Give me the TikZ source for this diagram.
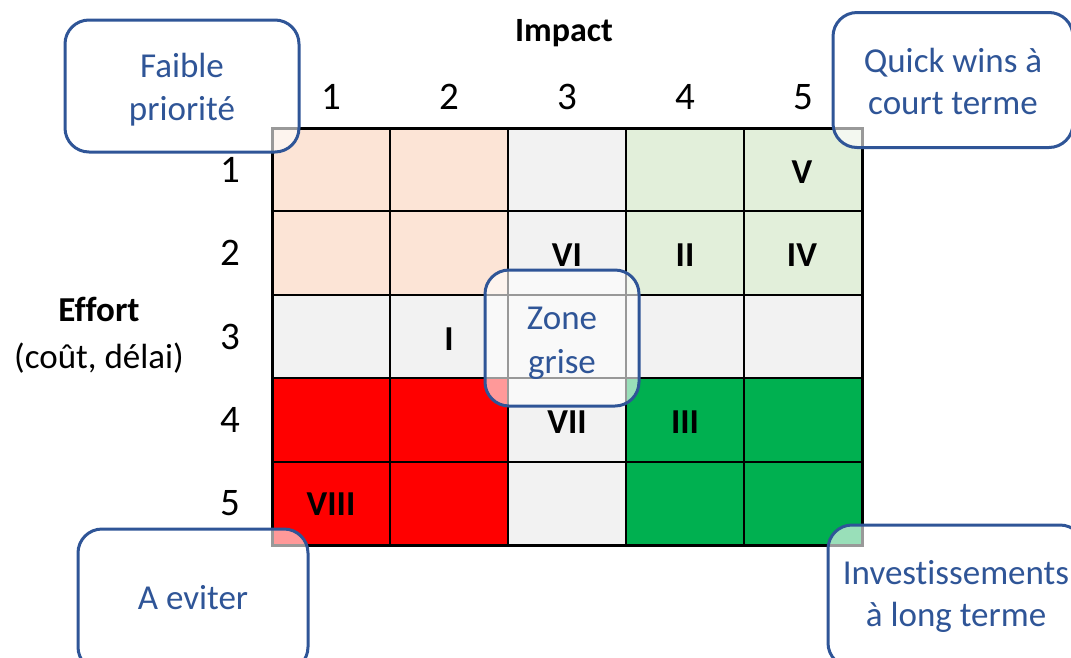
\documentclass[tikz,border=0pt]{standalone}
\usepackage{fontspec}
\setmainfont{Carlito}[Ligatures=NoCommon]
\usepackage{tikz}
\usetikzlibrary{positioning, calc}

\definecolor{peche}{HTML}{FCE4D6}
\definecolor{grisclair}{HTML}{F2F2F2}
\definecolor{vertpale}{HTML}{E2EFDA}
\definecolor{rouge}{HTML}{FF0000}
\definecolor{vertfonce}{HTML}{00B050}
\definecolor{bleubord}{HTML}{2F5597}

\tikzset{
  case/.style={draw=black, line width=2pt},
  bulle/.style={draw=bleubord, line width=3pt, rounded corners=24pt, fill=white,
    fill opacity=0.6, inner sep=0pt},
  bultexte/.style={text=bleubord, align=center, inner sep=0pt,
    font=\fontsize{35}{42}\selectfont},
  chiffre/.style={font=\fontsize{39}{44}\selectfont},
  romain/.style={font=\fontsize{35}{40}\selectfont\bfseries},
  axe/.style={font=\fontsize{35}{47}\selectfont, align=center}
}

\begin{document}
\begin{tikzpicture}[x=1pt, y=-1pt]
        \useasboundingbox (0,0) rectangle (1071,657);
        \clip (0,0) rectangle (1071,657);

        % Matrice 5x5 (lignes = effort, colonnes = impact)
        \foreach \ligne [count=\r] in {
            {peche,peche,grisclair,vertpale,vertpale},
            {peche,peche,grisclair,vertpale,vertpale},
            {grisclair,grisclair,grisclair,grisclair,grisclair},
            {rouge,rouge,grisclair,vertfonce,vertfonce},
            {rouge,rouge,grisclair,vertfonce,vertfonce}} {
            \foreach \coul [count=\c] in \ligne {
                \filldraw[case, fill=\coul] ({272+118*(\c-1)}, {128+83.4*(\r-1)})
                    rectangle ({272+118*\c}, {128+83.4*\r});
            }
        }
        \draw[line width=3pt] (272,128) rectangle (862,545);

        % Graduations
        \foreach \n in {1,...,5} {
            \node[chiffre] (col\n) at ({272+118*(\n-0.5)}, 97) {\n};
            \node[chiffre] (lig\n) at (230, {128+83.4*(\n-0.5)}) {\n};
        }

        % Titres des axes
        \node[axe, font=\fontsize{34}{46}\selectfont\bfseries] (impact) at (564,33) {Impact};
        \node[axe] (effort) at (99,335) {\textbf{Effort}\\(coût, délai)};

        % Numeros des actions
        \node[romain] (a5) at (802,172) {V};
        \node[romain] (a6) at (567,255) {VI};
        \node[romain] (a2) at (685,255) {II};
        \node[romain] (a4) at (802,255) {IV};
        \node[romain] (a1) at (449,339) {I};
        \node[romain] (a7) at (567,422) {VII};
        \node[romain] (a3) at (685,422) {III};
        \node[romain] (a8) at (331,504) {VIII};

        % Bulles des zones
        \node[bulle, minimum width=234pt, minimum height=132pt] (faible) at (182,86) {};
        \node[bulle, minimum width=240pt, minimum height=135pt] (quick) at (953,80) {};
        \node[bulle, minimum width=154pt, minimum height=136pt] (grise) at (562,338) {};
        \node[bulle, minimum width=230pt, minimum height=142pt] (eviter) at (193,600) {};
        \node[bulle, minimum width=256pt, minimum height=142pt] (invest) at (956,596) {};

        \node[bultexte, font=\fontsize{35}{43}\selectfont] (tfaible) at ($(faible.center)+(0,4)$) {Faible\\priorité};
        \node[bultexte] (tquick) at ($(quick.center)+(0,1)$) {Quick wins à\\court terme};
        \node[bultexte, font=\fontsize{35}{44}\selectfont] (tgrise) at ($(grise.center)+(0,5)$) {Zone\\grise};
        \node[bultexte] (teviter) at ($(eviter.center)+(0,-2)$) {A eviter};
        \node[bultexte] (tinvest) at (invest.center) {Investissements\\à long terme};
\end{tikzpicture}
\end{document}
